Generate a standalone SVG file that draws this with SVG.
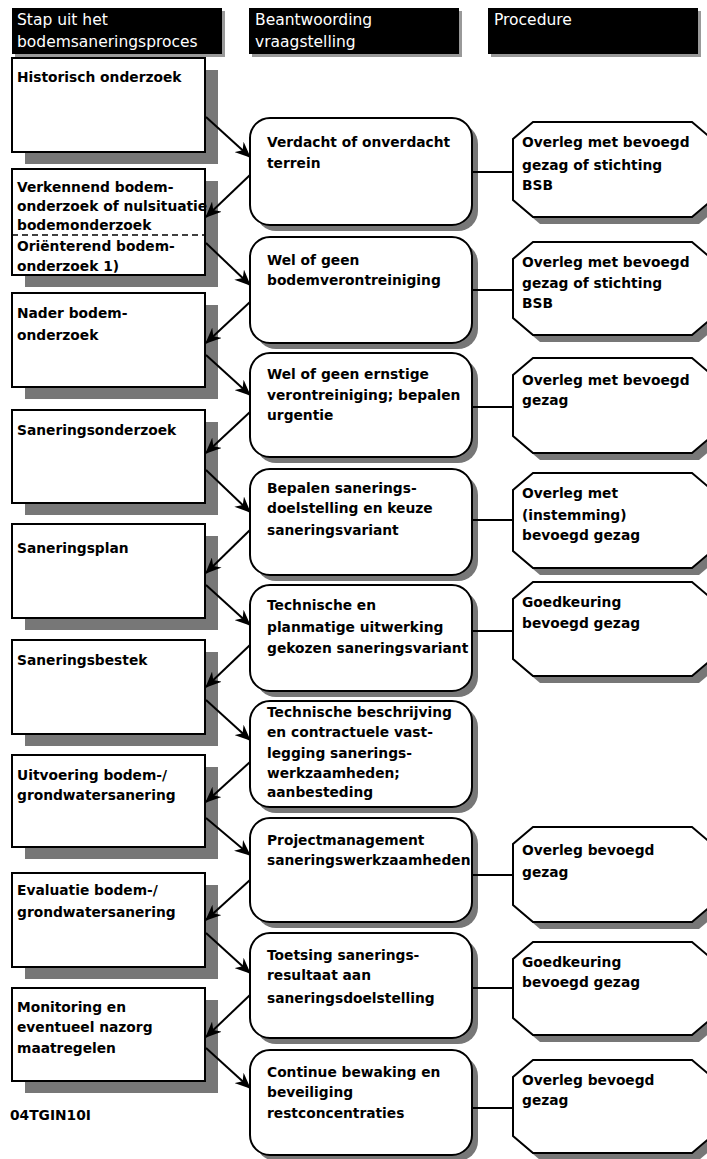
<svg xmlns="http://www.w3.org/2000/svg" width="707" height="1159" viewBox="0 0 707 1159">
<defs>
<style>
.hdr{fill:#000}
.hsh{fill:#999}
.ht{fill:#fff;font-family:"DejaVu Sans","Liberation Sans",sans-serif;font-size:15.5px}
.box{fill:#fff;stroke:#000;stroke-width:2}
.sh{fill:#777}
.t{fill:#000;font-family:"DejaVu Sans","Liberation Sans",sans-serif;font-size:13.8px;font-weight:bold}
.con{stroke:#000;stroke-width:2;fill:none}
.arr{stroke:#000;stroke-width:2;fill:none;marker-end:url(#ah)}
</style>
<marker id="ah" markerUnits="userSpaceOnUse" markerWidth="16" markerHeight="14" refX="15" refY="7" orient="auto">
<path d="M0,0 L16,7 L0,14 L5,7 Z" fill="#000"/>
</marker>
</defs>
<rect width="707" height="1159" fill="#fff"/>

<g id="header1"><rect class="hsh" x="15" y="11" width="210" height="46"/><rect class="hdr" x="12" y="8" width="210" height="46"/><text class="ht" x="17" y="25">Stap uit het</text><text class="ht" x="17" y="47">bodemsaneringsproces</text></g>
<g id="header2"><rect class="hsh" x="252" y="11" width="210" height="46"/><rect class="hdr" x="249" y="8" width="210" height="46"/><text class="ht" x="255" y="25">Beantwoording</text><text class="ht" x="255" y="47">vraagstelling</text></g>
<g id="header3"><rect class="hsh" x="491" y="11" width="210" height="46"/><rect class="hdr" x="488" y="8" width="210" height="46"/><text class="ht" x="494" y="25">Procedure</text></g>

<g id="step1"><rect class="sh" x="25" y="70" width="193" height="94"/><rect class="box" x="12" y="58" width="193" height="94"/><text class="t" x="17" y="82">Historisch onderzoek</text></g>
<g id="step2"><rect class="sh" x="25" y="181" width="193" height="106"/><rect class="box" x="12" y="169" width="193" height="106"/><line x1="12" y1="235" x2="205" y2="235" stroke="#000" stroke-width="1.5" stroke-dasharray="6,4"/><text class="t" x="17" y="192">Verkennend bodem-</text><text class="t" x="17" y="211">onderzoek of nulsituatie</text><text class="t" x="17" y="230">bodemonderzoek</text><text class="t" x="17" y="251">Oriënterend bodem-</text><text class="t" x="17" y="271">onderzoek 1)</text></g>
<g id="step3"><rect class="sh" x="25" y="305" width="193" height="94"/><rect class="box" x="12" y="293" width="193" height="94"/><text class="t" x="17" y="318">Nader bodem-</text><text class="t" x="17" y="340">onderzoek</text></g>
<g id="step4"><rect class="sh" x="25" y="422" width="193" height="93"/><rect class="box" x="12" y="410" width="193" height="93"/><text class="t" x="17" y="435">Saneringsonderzoek</text></g>
<g id="step5"><rect class="sh" x="25" y="536" width="193" height="94"/><rect class="box" x="12" y="524" width="193" height="94"/><text class="t" x="17" y="553">Saneringsplan</text></g>
<g id="step6"><rect class="sh" x="25" y="652" width="193" height="94"/><rect class="box" x="12" y="640" width="193" height="94"/><text class="t" x="17" y="665">Saneringsbestek</text></g>
<g id="step7"><rect class="sh" x="25" y="767" width="193" height="92"/><rect class="box" x="12" y="755" width="193" height="92"/><text class="t" x="17" y="780">Uitvoering bodem-/</text><text class="t" x="17" y="800">grondwatersanering</text></g>
<g id="step8"><rect class="sh" x="25" y="885" width="193" height="94"/><rect class="box" x="12" y="873" width="193" height="94"/><text class="t" x="17" y="895">Evaluatie bodem-/</text><text class="t" x="17" y="917">grondwatersanering</text></g>
<g id="step9"><rect class="sh" x="25" y="1000" width="193" height="93"/><rect class="box" x="12" y="988" width="193" height="93"/><text class="t" x="17" y="1012">Monitoring en</text><text class="t" x="17" y="1032">eventueel nazorg</text><text class="t" x="17" y="1053">maatregelen</text></g>
<g id="code"><text class="t" x="10" y="1120">04TGIN10I</text></g>

<g id="q1"><rect class="sh" x="256" y="124" width="222" height="107" rx="20"/><rect class="box" x="250" y="118" width="222" height="107" rx="20"/><text class="t" x="267" y="147">Verdacht of onverdacht</text><text class="t" x="267" y="168">terrein</text></g>
<g id="q2"><rect class="sh" x="256" y="243" width="222" height="106" rx="20"/><rect class="box" x="250" y="237" width="222" height="106" rx="20"/><text class="t" x="267" y="265">Wel of geen</text><text class="t" x="267" y="285">bodemverontreiniging</text></g>
<g id="q3"><rect class="sh" x="256" y="359" width="222" height="104" rx="20"/><rect class="box" x="250" y="353" width="222" height="104" rx="20"/><text class="t" x="267" y="379">Wel of geen ernstige</text><text class="t" x="267" y="400">verontreiniging; bepalen</text><text class="t" x="267" y="420">urgentie</text></g>
<g id="q4"><rect class="sh" x="256" y="475" width="222" height="106" rx="20"/><rect class="box" x="250" y="469" width="222" height="106" rx="20"/><text class="t" x="267" y="493">Bepalen sanerings-</text><text class="t" x="267" y="513">doelstelling en keuze</text><text class="t" x="267" y="535">saneringsvariant</text></g>
<g id="q5"><rect class="sh" x="256" y="591" width="222" height="106" rx="20"/><rect class="box" x="250" y="585" width="222" height="106" rx="20"/><text class="t" x="267" y="610">Technische en</text><text class="t" x="267" y="632">planmatige uitwerking</text><text class="t" x="267" y="653">gekozen saneringsvariant</text></g>
<g id="q6"><rect class="sh" x="256" y="707" width="222" height="106" rx="20"/><rect class="box" x="250" y="701" width="222" height="106" rx="20"/><text class="t" x="267" y="717">Technische beschrijving</text><text class="t" x="267" y="737">en contractuele vast-</text><text class="t" x="267" y="758">legging sanerings-</text><text class="t" x="267" y="778">werkzaamheden;</text><text class="t" x="267" y="797">aanbesteding</text></g>
<g id="q7"><rect class="sh" x="256" y="824" width="222" height="104" rx="20"/><rect class="box" x="250" y="818" width="222" height="104" rx="20"/><text class="t" x="267" y="845">Projectmanagement</text><text class="t" x="267" y="865">saneringswerkzaamheden</text></g>
<g id="q8"><rect class="sh" x="256" y="939" width="222" height="105" rx="20"/><rect class="box" x="250" y="933" width="222" height="105" rx="20"/><text class="t" x="267" y="960">Toetsing sanerings-</text><text class="t" x="267" y="980">resultaat aan</text><text class="t" x="267" y="1003">saneringsdoelstelling</text></g>
<g id="q9"><rect class="sh" x="256" y="1056" width="222" height="105" rx="20"/><rect class="box" x="250" y="1050" width="222" height="105" rx="20"/><text class="t" x="267" y="1077">Continue bewaking en</text><text class="t" x="267" y="1097">beveiliging</text><text class="t" x="267" y="1118">restconcentraties</text></g>

<g id="p1"><path class="sh" d="M540,129 L699,129 L719,146 L719,207 L699,224 L540,224 L520,207 L520,146 Z"/><path class="box" d="M533,122 L692,122 L712,139 L712,200 L692,217 L533,217 L513,200 L513,139 Z"/><text class="t" x="522" y="147">Overleg met bevoegd</text><text class="t" x="522" y="170">gezag of stichting</text><text class="t" x="522" y="190">BSB</text></g>
<g id="p2"><path class="sh" d="M540,249 L699,249 L719,266 L719,325 L699,342 L540,342 L520,325 L520,266 Z"/><path class="box" d="M533,242 L692,242 L712,259 L712,318 L692,335 L533,335 L513,318 L513,259 Z"/><text class="t" x="522" y="267">Overleg met bevoegd</text><text class="t" x="522" y="288">gezag of stichting</text><text class="t" x="522" y="308">BSB</text></g>
<g id="p3"><path class="sh" d="M540,365 L699,365 L719,382 L719,443 L699,460 L540,460 L520,443 L520,382 Z"/><path class="box" d="M533,358 L692,358 L712,375 L712,436 L692,453 L533,453 L513,436 L513,375 Z"/><text class="t" x="522" y="385">Overleg met bevoegd</text><text class="t" x="522" y="405">gezag</text></g>
<g id="p4"><path class="sh" d="M540,480 L699,480 L719,497 L719,558 L699,575 L540,575 L520,558 L520,497 Z"/><path class="box" d="M533,473 L692,473 L712,490 L712,551 L692,568 L533,568 L513,551 L513,490 Z"/><text class="t" x="522" y="498">Overleg met</text><text class="t" x="522" y="520">(instemming)</text><text class="t" x="522" y="540">bevoegd gezag</text></g>
<g id="p5"><path class="sh" d="M540,589 L699,589 L719,606 L719,666 L699,683 L540,683 L520,666 L520,606 Z"/><path class="box" d="M533,582 L692,582 L712,599 L712,659 L692,676 L533,676 L513,659 L513,599 Z"/><text class="t" x="522" y="607">Goedkeuring</text><text class="t" x="522" y="628">bevoegd gezag</text></g>
<g id="p7"><path class="sh" d="M540,834 L699,834 L719,851 L719,912 L699,929 L540,929 L520,912 L520,851 Z"/><path class="box" d="M533,827 L692,827 L712,844 L712,905 L692,922 L533,922 L513,905 L513,844 Z"/><text class="t" x="522" y="855">Overleg bevoegd</text><text class="t" x="522" y="877">gezag</text></g>
<g id="p8"><path class="sh" d="M540,949 L699,949 L719,966 L719,1025 L699,1042 L540,1042 L520,1025 L520,966 Z"/><path class="box" d="M533,942 L692,942 L712,959 L712,1018 L692,1035 L533,1035 L513,1018 L513,959 Z"/><text class="t" x="522" y="967">Goedkeuring</text><text class="t" x="522" y="987">bevoegd gezag</text></g>
<g id="p9"><path class="sh" d="M540,1067 L699,1067 L719,1084 L719,1143 L699,1160 L540,1160 L520,1143 L520,1084 Z"/><path class="box" d="M533,1060 L692,1060 L712,1077 L712,1136 L692,1153 L533,1153 L513,1136 L513,1077 Z"/><text class="t" x="522" y="1085">Overleg bevoegd</text><text class="t" x="522" y="1105">gezag</text></g>

<g id="connectors">
<path class="arr" d="M206,117 L250,157"/>
<path class="arr" d="M250,175 L206,217"/>
<path class="arr" d="M206,243 L250,285"/>
<path class="arr" d="M250,302 L206,343"/>
<path class="arr" d="M206,355 L250,395"/>
<path class="arr" d="M250,412 L206,453"/>
<path class="arr" d="M206,470 L250,512"/>
<path class="arr" d="M250,530 L206,573"/>
<path class="arr" d="M206,585 L250,625"/>
<path class="arr" d="M250,645 L206,687"/>
<path class="arr" d="M206,700 L250,740"/>
<path class="arr" d="M250,762 L206,802"/>
<path class="arr" d="M206,818 L250,855"/>
<path class="arr" d="M250,880 L206,920"/>
<path class="arr" d="M206,933 L250,973"/>
<path class="arr" d="M250,995 L206,1037"/>
<path class="arr" d="M206,1048 L250,1088"/>
<path class="con" d="M472,172 H513 M472,290 H513 M472,407 H513 M472,520 H513 M472,631 H513 M472,875 H513 M472,988 H513 M472,1108 H513"/>
</g>
</svg>
